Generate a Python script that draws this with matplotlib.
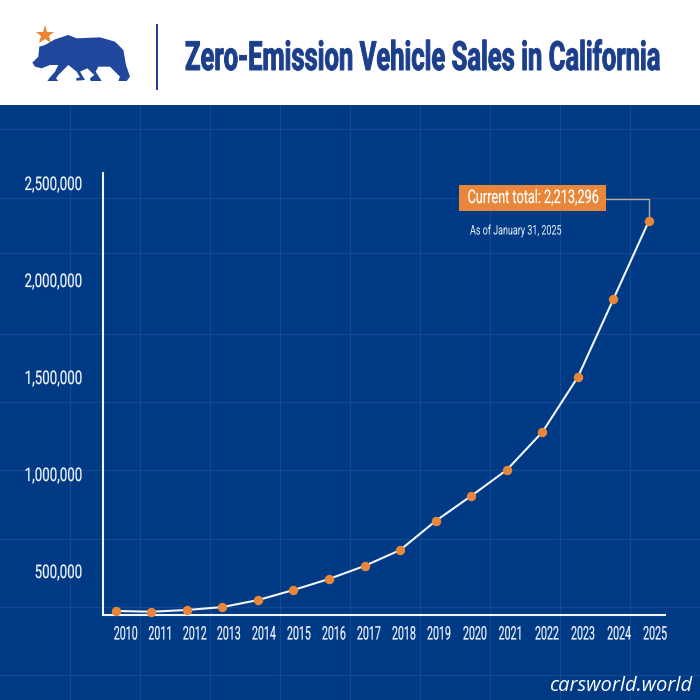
"""Zero-emission vehicle sales in California, recreated as a single figure."""

import matplotlib

matplotlib.use("Agg")
import matplotlib.pyplot as plt
from matplotlib.lines import Line2D
from matplotlib.patches import Polygon, Rectangle
from matplotlib.patheffects import AbstractPathEffect
from matplotlib.transforms import Affine2D

years = list(range(2010, 2026))
sales = [294000, 290000, 299000, 314000, 350000, 402000, 459000, 526000,
         608000, 758000, 887000, 1021000, 1216000, 1500000, 1902000, 2306000]
y_ticks = [500000, 1000000, 1500000, 2000000, 2500000]
y_tick_labels = ["500,000", "1,000,000", "1,500,000", "2,000,000", "2,500,000"]
title = "Zero-Emission Vehicle Sales in California"
callout = "Current total: 2,213,296"
callout_note = "As of January 31, 2025"
watermark = "carsworld.world"

NAVY = "#003a85"
TITLE_BLUE = "#1c3f8c"
BEAR_BLUE = "#20479b"
ORANGE = "#e8873a"
WHITE = "#f2f6fb"
GRID = "#14488f"

SIZE = 700
# the year labels sit a little right of their points in the original
YEAR_LABEL_PX = [126, 161, 195, 229, 264, 299, 334, 369, 404, 439, 475, 511, 547, 583, 619, 655]


def fx(px):
    return px / SIZE


def fy(py):
    return 1 - py / SIZE


class Squeeze(AbstractPathEffect):
    """Draw text narrower than the font, since no condensed family is installed."""

    def __init__(self, sx, anchor=0.0, bold=0.0, sy=1.0):
        super().__init__()
        self.sx = sx
        self.sy = sy
        self.anchor = anchor
        self.bold = bold

    def draw_path(self, renderer, gc, tpath, affine, rgbFace=None):
        shift = self.anchor * tpath.get_extents().x1
        squeezed = Affine2D().translate(-shift, 0).scale(self.sx, self.sy).translate(shift, 0) + affine
        gc0 = renderer.new_gc()
        gc0.copy_properties(gc)
        gc0.set_foreground(rgbFace)
        gc0.set_linewidth(self.bold)
        renderer.draw_path(gc0, tpath, squeezed, rgbFace)
        gc0.restore()


def squeeze(text, sx, anchor=0.0, bold=0.0, sy=1.0):
    text.set_path_effects([Squeeze(sx, anchor, bold, sy)])
    return text


def main():
    plt.rcParams["font.family"] = ["Roboto", "DejaVu Sans"]
    fig = plt.figure(figsize=(7, 7), dpi=100, facecolor=NAVY)

    # Header band and background grid
    fig.add_artist(Rectangle((0, fy(105)), 1, 105 / SIZE, transform=fig.transFigure, color="white", lw=0, zorder=-1))
    for px in range(70, 700, 70):
        fig.add_artist(Line2D([fx(px), fx(px)], [0, fy(105)], color=GRID, lw=0.8, zorder=-2))
    for py in (129, 198, 253, 334, 402, 470, 539, 607, 675):
        fig.add_artist(Line2D([0, 1], [fy(py), fy(py)], color=GRID, lw=0.8, zorder=-2))

    # Logo: star, bear, divider
    fig.add_artist(Line2D([fx(44.5)], [fy(35)], marker="*", ms=14, color=ORANGE, mew=0, zorder=1))
    bear = [(97, 188), (115, 170), (118, 140), (135, 135), (165, 118), (205, 105), (230, 115), (300, 112),
            (345, 125), (370, 150), (378, 195), (390, 230), (380, 243), (355, 243), (360, 230), (330, 200),
            (295, 200), (287, 215), (305, 243), (272, 243), (270, 235), (283, 225), (262, 205), (240, 215),
            (255, 240), (230, 242), (228, 235), (240, 232), (230, 215), (205, 195), (175, 225), (168, 235),
            (175, 243), (142, 243), (150, 232), (165, 215), (175, 195), (150, 195), (125, 205), (105, 200)]
    fig.add_artist(Polygon([(fx(x / 3), fy(y / 3)) for x, y in bear], closed=True, transform=fig.transFigure,
                           facecolor=BEAR_BLUE, edgecolor="none", zorder=1))
    fig.add_artist(Line2D([fx(156.5), fx(156.5)], [fy(89), fy(25)], color=TITLE_BLUE, lw=1.4, zorder=1))
    squeeze(fig.text(fx(185), fy(70), title, color=TITLE_BLUE, fontsize=19.8, fontweight="bold",
                     ha="left", va="baseline"), 0.93, 0, 0.7, sy=1.465)

    # Chart area lines up with the axis lines of the picture
    ax = fig.add_axes([fx(103), fy(615), (665 - 103) / SIZE, (615 - 173) / SIZE], zorder=5)
    ax.patch.set_alpha(0)
    ax.set_xlim(2009.643, 2025.45)
    ax.set_ylim(273196, 2551546)
    ax.plot(years, sales, color=WHITE, lw=1.5, clip_on=False, zorder=3)
    ax.scatter(years, sales, s=46, color=ORANGE, clip_on=False, zorder=4, linewidths=0)

    for side in ("top", "right"):
        ax.spines[side].set_visible(False)
    for side in ("left", "bottom"):
        ax.spines[side].set_color(WHITE)
        ax.spines[side].set_linewidth(1.5)

    ax.set_yticks(y_ticks, y_tick_labels)
    ax.set_xticks([2010 + (px - 115.7) / 35.53 for px in YEAR_LABEL_PX], [str(y) for y in years])
    ax.tick_params(axis="y", length=0, pad=15, labelsize=13.5, labelcolor=WHITE)
    ax.tick_params(axis="x", length=0, pad=9, labelsize=11.5, labelcolor=WHITE)
    for label in ax.get_yticklabels():
        squeeze(label, 0.71, 1, 0.15)
    for label in ax.get_xticklabels():
        squeeze(label, 0.667, 0.5, 0.15, sy=1.17)

    # Callout on the last point
    ax.annotate("", xy=(years[-1], sales[-1]), xytext=(fx(606), fy(199)), textcoords="figure fraction",
                arrowprops=dict(arrowstyle="-", color="#b9a99a", lw=1, shrinkA=0, shrinkB=0,
                                connectionstyle="angle,angleA=0,angleB=90,rad=0"))
    fig.add_artist(Rectangle((fx(459), fy(211)), 147 / SIZE, 26 / SIZE, transform=fig.transFigure,
                             color=ORANGE, lw=0, zorder=6))
    squeeze(fig.text(fx(533.5), fy(198), callout, color="white", fontsize=13.5, ha="center", va="center",
                     zorder=7), 0.675, 0.5, 0.15)
    squeeze(fig.text(fx(470), fy(231), callout_note, color=WHITE, fontsize=9.5, ha="left", va="center"), 0.68)

    fig.text(fx(692), fy(686), watermark, color="white", fontsize=14.5, style="italic",
             family="Open Sans", ha="right", va="center")

    fig.savefig("out.png", dpi=100, facecolor=fig.get_facecolor())


if __name__ == "__main__":
    main()
